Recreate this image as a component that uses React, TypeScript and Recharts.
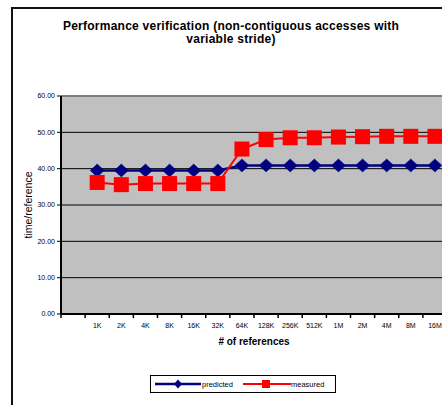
import React from 'react';
import { LineChart, Line, XAxis, YAxis, CartesianGrid, ReferenceLine, Legend, Label } from 'recharts';

const categories = ['', '1K', '2K', '4K', '8K', '16K', '32K', '64K', '128K', '256K', '512K', '1M', '2M', '4M', '8M', '16M'];
const predicted: (number | null)[] = [null, 39.5, 39.5, 39.5, 39.5, 39.5, 39.5, 40.9, 40.9, 40.9, 40.9, 40.9, 40.9, 40.9, 40.9, 40.9];
const measured: (number | null)[] = [null, 36.2, 35.6, 35.9, 35.9, 35.9, 35.9, 45.4, 48.0, 48.5, 48.5, 48.7, 48.8, 48.9, 48.9, 48.9];
const yTicks = [0, 10, 20, 30, 40, 50, 60];

const data = categories.map((c, i) => ({ cat: c, predicted: predicted[i], measured: measured[i] }));

const FONT = "Arial, 'Liberation Sans', sans-serif";
const NAVY = '#000080';
const RED = '#FF0000';

const CHART_W = 470;
const CHART_H = 405;
const MARGIN = { top: 96, right: 23, bottom: 61, left: 0 };
const Y_W = 61;
const BAND = (CHART_W - MARGIN.right - MARGIN.left - Y_W) / categories.length;

const Diamond = (props: any) => {
  const { cx, cy, value } = props;
  if (value == null || cx == null || cy == null) return null;
  return <path d={`M${cx},${cy - 6.5} L${cx + 7},${cy} L${cx},${cy + 6.5} L${cx - 7},${cy} Z`} fill={NAVY} stroke={NAVY} strokeWidth={0.5} />;
};

const Square = (props: any) => {
  const { cx, cy, value } = props;
  if (value == null || cx == null || cy == null) return null;
  return <rect x={cx - 7.5} y={cy - 7.5} width={15} height={15} fill={RED} />;
};

const XTick = (props: any) => {
  const { x, y, payload } = props;
  return (
    <g>
      <line x1={x - BAND / 2} x2={x - BAND / 2} y1={y} y2={y + 4} stroke="#000" strokeWidth={1.5} />
      <text x={x} y={y + 13.5} textAnchor="middle" fontSize={7} fontFamily={FONT} fill="#000">{payload.value}</text>
    </g>
  );
};

const renderLegend = () => (
  <div style={{ width: 184, height: 16, border: '1px solid #000', background: '#fff', boxSizing: 'content-box' }}>
    <svg width={184} height={16}>
      <line x1={4} x2={50} y1={8} y2={8} stroke={NAVY} strokeWidth={2.5} />
      <path d="M27,3.5 L31,8 L27,12.5 L23,8 Z" fill={NAVY} />
      <text x={51} y={10.5} fontSize={7.5} fontFamily={FONT} fill="#000">predicted</text>
      <line x1={92} x2={140} y1={8} y2={8} stroke={RED} strokeWidth={2} />
      <rect x={111} y={4} width={8} height={8} fill={RED} />
      <text x={140} y={10.5} fontSize={7.5} fontFamily={FONT} fill="#000">measured</text>
    </svg>
  </div>
);

export default function App() {
  return (
    <div style={{ position: 'absolute', left: 0, top: 0, width: 442, height: 405, overflow: 'hidden', background: '#fff' }}>
      <div style={{ position: 'absolute', left: 11, top: 7, width: 460, height: 430, border: '2px solid #111', boxSizing: 'border-box' }} />
      <div style={{ position: 'absolute', left: 11, top: 19.5, width: 440, textAlign: 'center', fontFamily: FONT, fontWeight: 'bold', fontSize: 12, letterSpacing: '0.25px', lineHeight: '13.5px', color: '#000' }}>
        Performance verification (non-contiguous accesses with<br />variable stride)
      </div>
      <div style={{ position: 'absolute', left: 0, top: 0 }}>
        <LineChart width={CHART_W} height={CHART_H} data={data} margin={MARGIN}>
          <CartesianGrid vertical={false} horizontal={true} stroke="#000" strokeWidth={1} fill="#C0C0C0" fillOpacity={1} />
          <ReferenceLine y={60} stroke="#808080" strokeWidth={2} />
          <XAxis dataKey="cat" scale="band" interval={0} tickSize={0} tickMargin={0} tickLine={false} tick={<XTick />} axisLine={{ stroke: '#000', strokeWidth: 2 }} height={30}>
            <Label content={(p: any) => {
              const vb = p.viewBox;
              return <text x={vb.x + vb.width / 2} y={344.5} textAnchor="middle" fontSize={10} fontWeight="bold" fontFamily={FONT} fill="#000"># of references</text>;
            }} />
          </XAxis>
          <YAxis type="number" domain={[0, 60]} ticks={yTicks} interval={0} width={Y_W} tickSize={4} tickMargin={2} tickFormatter={(v: number) => v.toFixed(2)} tick={{ fontSize: 7, fontFamily: FONT, fill: '#000' }} tickLine={{ stroke: '#000' }} axisLine={{ stroke: '#000', strokeWidth: 2 }}>
            <Label content={(p: any) => {
              const vb = p.viewBox;
              const cy = vb.y + vb.height / 2;
              return <text x={28} y={cy} transform={`rotate(-90, 28, ${cy})`} dy="0.35em" textAnchor="middle" fontSize={10.5} fontFamily={FONT} fill="#000">time/reference</text>;
            }} />
          </YAxis>
          <Line dataKey="predicted" stroke={NAVY} strokeWidth={2.5} dot={<Diamond />} activeDot={false} isAnimationActive={false} />
          <Line dataKey="measured" stroke={RED} strokeWidth={2} dot={<Square />} activeDot={false} isAnimationActive={false} />
          <Legend layout="horizontal" verticalAlign="middle" align="center" content={renderLegend} wrapperStyle={{ position: 'absolute', left: 150, top: 375, width: 186, height: 18 }} />
        </LineChart>
      </div>
    </div>
  );
}
